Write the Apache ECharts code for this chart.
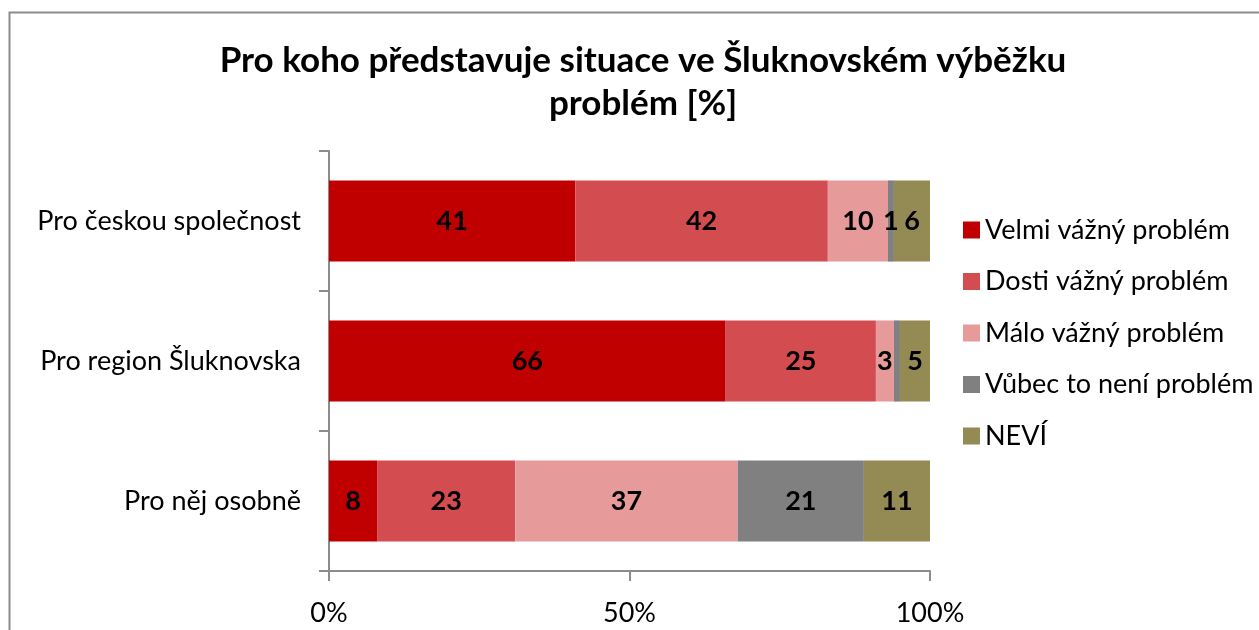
<!DOCTYPE html>
<html>
<head>
<meta charset="utf-8">
<script src="https://cdn.jsdelivr.net/npm/echarts@6/dist/echarts.min.js"></script>
<style>
  html, body { margin: 0; padding: 0; background: #fff; }
  #chart { width: 1259px; height: 630px; }
</style>
</head>
<body>
<div id="chart"></div>
<script>
// kategorie (odshora dolů)
const categories = ['Pro českou společnost', 'Pro region Šluknovska', 'Pro něj osobně']

// hodnoty v % pro každou odpověď
const velmi = [41, 66, 8]
const dosti = [42, 25, 23]
const malo = [10, 3, 37]
const vubec = [1, 1, 21]
const nevi = [6, 5, 11]

// popisky, které v originále nejsou zobrazené
const hiddenLabels = { 'Vůbec to není problém': [1] }

const seriesNames = ['Velmi vážný problém', 'Dosti vážný problém', 'Málo vážný problém', 'Vůbec to není problém', 'NEVÍ']
const seriesData = [velmi, dosti, malo, vubec, nevi]
const colors = ['#C00000', '#D34C50', '#E69A9A', '#808080', '#948A54']
const xTicks = ['0%', '50%', '100%']

const font = 'Lato, "Open Sans", sans-serif'

const chart = echarts.init(document.getElementById('chart'))

const option = {
  animation: false,
  color: colors,
  title: {
    text: 'Pro koho představuje situace ve Šluknovském výběžku\nproblém [%]',
    left: 638,
    textAlign: 'center',
    top: 34,
    textStyle: {
      fontFamily: font,
      fontSize: 35,
      fontWeight: 'bold',
      color: '#000',
      lineHeight: 43
    }
  },
  graphic: [{
    type: 'rect',
    shape: { x: 9.5, y: 12.5, width: 1400, height: 800 },
    style: { fill: 'none', stroke: '#8c8c8c', lineWidth: 2 },
    silent: true
  }],
  legend: {
    orient: 'vertical',
    left: 958,
    top: 210,
    itemWidth: 17,
    itemHeight: 17,
    itemGap: 21.5,
    icon: 'rect',
    textStyle: {
      fontFamily: font,
      fontSize: 27,
      lineHeight: 30,
      color: '#000'
    },
    data: seriesNames
  },
  grid: {
    left: 329,
    right: 329,
    top: 151,
    bottom: 59,
    containLabel: false
  },
  xAxis: {
    type: 'value',
    min: 0,
    max: 100,
    interval: 50,
    splitLine: { show: false },
    axisLine: { show: true, lineStyle: { color: '#8c8c8c', width: 2 } },
    axisTick: { show: true, length: 10, lineStyle: { color: '#8c8c8c', width: 2 } },
    axisLabel: {
      fontFamily: font,
      fontSize: 27,
      color: '#000',
      margin: 29,
      formatter: (v) => xTicks[v / 50]
    }
  },
  yAxis: {
    type: 'category',
    inverse: true,
    data: categories,
    axisLine: { show: true, lineStyle: { color: '#8c8c8c', width: 2 } },
    axisTick: { show: true, length: 10, lineStyle: { color: '#8c8c8c', width: 2 } },
    axisLabel: {
      fontFamily: font,
      fontSize: 27,
      color: '#000',
      margin: 28
    }
  },
  series: seriesNames.map((name, i) => ({
    name: name,
    type: 'bar',
    stack: 'total',
    barWidth: '58%',
    data: seriesData[i].map((v, j) => {
      const hide = (hiddenLabels[name] || []).includes(j)
      return hide ? { value: v, label: { show: false } } : v
    }),
    label: {
      show: true,
      position: 'inside',
      fontFamily: font,
      fontSize: 27,
      fontWeight: 'bold',
      color: '#000'
    }
  }))
}

chart.setOption(option)
</script>
</body>
</html>
